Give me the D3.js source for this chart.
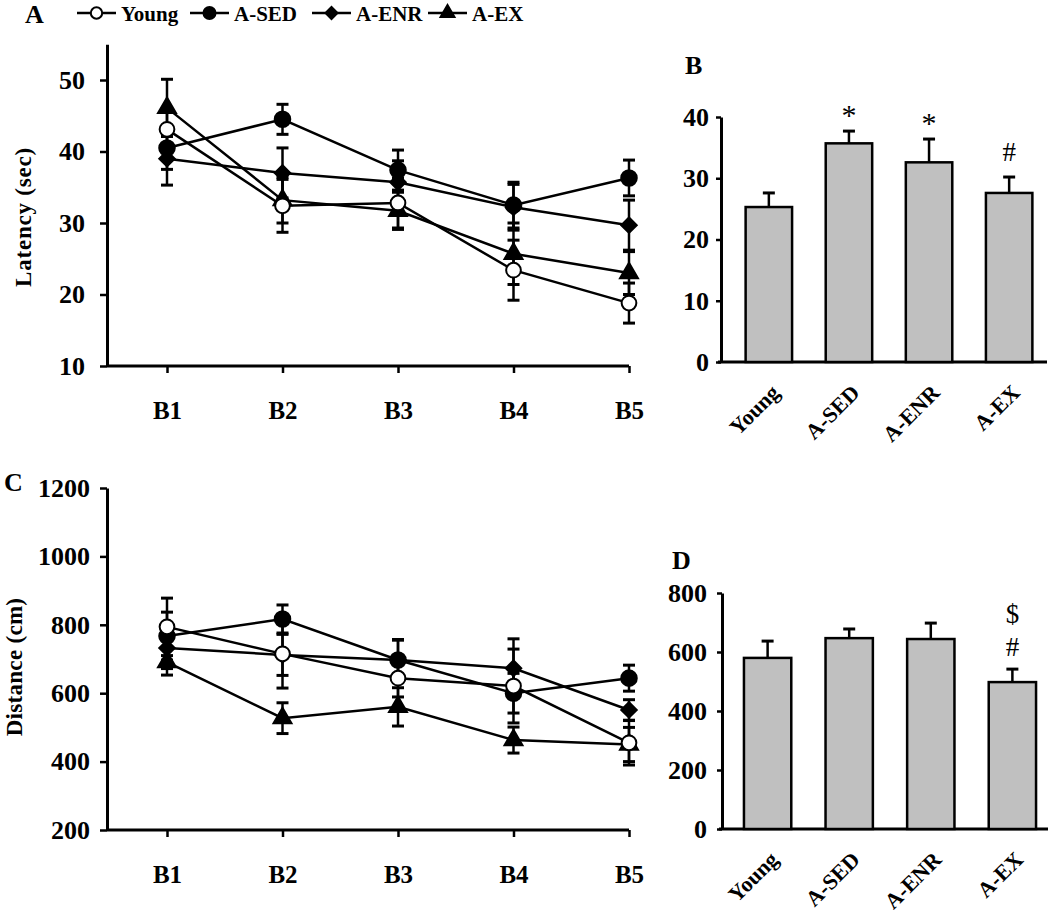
<!DOCTYPE html>
<html>
<head>
<meta charset="utf-8">
<script src="https://cdn.jsdelivr.net/npm/d3@7"></script>
<style>
  body { margin: 0; background: #fff; }
  text { font-family: "Liberation Serif", "Times New Roman", serif; font-weight: bold; fill: #000; }
</style>
</head>
<body>
<div id="chart"></div>
<script>
// categories
const blocks = ["B1", "B2", "B3", "B4", "B5"];
const groups = ["Young", "A-SED", "A-ENR", "A-EX"];

// panel A: latency (sec) per block, mean and error
const latYoung = [43.1, 32.4, 32.8, 23.4, 18.8];
const latYoungErr = [3.0, 3.7, 3.5, 4.2, 2.8];
const latSed = [40.5, 44.5, 37.4, 32.5, 36.3];
const latSedErr = [3.0, 2.1, 2.8, 3.2, 2.5];
const latEnr = [39.0, 37.0, 35.7, 32.2, 29.7];
const latEnrErr = [3.7, 3.5, 3.0, 3.2, 3.5];
const latEx = [46.1, 33.2, 31.7, 25.7, 23.0];
const latExErr = [4.0, 3.2, 2.6, 4.3, 3.0];

// panel B: mean latency per group
const latMean = [25.3, 35.7, 32.6, 27.6];
const latMeanErr = [2.3, 2.0, 3.8, 2.6];
const latNotes = ["", "*", "*", "#"];

// panel C: distance (cm) per block
const distYoung = [794, 715, 644, 621, 455];
const distYoungErr = [84, 100, 55, 108, 65];
const distSed = [767, 817, 697, 600, 644];
const distSedErr = [70, 41, 60, 58, 38];
const distEnr = [732, 712, 697, 673, 551];
const distEnrErr = [60, 60, 58, 86, 30];
const distEx = [691, 527, 560, 463, 450];
const distExErr = [38, 45, 56, 38, 50];

// panel D: mean distance per group
const distMean = [580, 647, 644, 498];
const distMeanErr = [57, 31, 54, 44];
const distNotes = ["", "", "", "$\n#"];

// tick labels
const latTicks = [10, 20, 30, 40, 50];
const latBarTicks = [0, 10, 20, 30, 40];
const distTicks = [200, 400, 600, 800, 1000, 1200];
const distBarTicks = [0, 200, 400, 600, 800];

const width = 1050, height = 916;
const svg = d3.select("#chart").append("svg")
  .attr("width", width).attr("height", height)
  .attr("viewBox", [0, 0, width, height]);

// marker shapes by group
const symbols = {
  "Young": {type: d3.symbolCircle, size: 170, fill: "#fff", rot: 0},
  "A-SED": {type: d3.symbolCircle, size: 190, fill: "#000", rot: 0},
  "A-ENR": {type: d3.symbolSquare, size: 120, fill: "#000", rot: 45},
  "A-EX": {type: d3.symbolTriangle, size: 140, fill: "#000", rot: 0}
};

const drawMarker = (g, name, cx, cy, scale = 1) => {
  const s = symbols[name];
  g.append("path")
    .attr("d", d3.symbol().type(s.type).size(s.size * scale)())
    .attr("transform", `translate(${cx},${cy}) rotate(${s.rot})`)
    .attr("fill", s.fill)
    .attr("stroke", "#000")
    .attr("stroke-width", 2);
};

const styleAxis = (g) => {
  g.attr("font-family", null).attr("font-size", null);
  g.selectAll(".tick line").attr("stroke", "#000").attr("stroke-width", 2.5);
  g.select(".domain").attr("stroke", "#000").attr("stroke-width", 3);
};

// line chart with error bars (panels A and C)
const lineChart = (opt) => {
  const g = svg.append("g");
  const x = d3.scalePoint().domain(blocks).range([167, 629]);
  const y = d3.scaleLinear().domain(opt.domain).range(opt.range);
  const x0 = 107, yBase = y(opt.domain[0]);

  // y axis
  g.append("g")
    .attr("transform", `translate(${x0},0)`)
    .call(d3.axisLeft(y).tickValues(opt.ticks).tickFormat(d3.format("d"))
      .tickSize(7).tickPadding(opt.pad).tickSizeOuter(0))
    .call(styleAxis)
    .selectAll("text").style("font-size", "26px");

  // x axis
  const xa = g.append("g")
    .attr("transform", `translate(0,${yBase})`)
    .call(d3.axisBottom(x).tickSize(7).tickPadding(28).tickSizeOuter(0))
    .call(styleAxis);
  xa.select(".domain").attr("d", `M${x0},0H${x.range()[1]}`);
  xa.selectAll("text").style("font-size", "25px");

  // axis title
  g.append("text")
    .attr("transform", `translate(${opt.titleX},${opt.titleY}) rotate(-90)`)
    .attr("text-anchor", "middle")
    .style("font-size", "23px")
    .style("letter-spacing", opt.spacing)
    .text(opt.title);

  const line = d3.line().x((d, i) => x(blocks[i])).y(d => y(d));
  opt.series.forEach(s => {
    g.append("path").datum(s.values)
      .attr("d", line)
      .attr("fill", "none")
      .attr("stroke", "#000")
      .attr("stroke-width", 2.5);
  });

  // error bars
  opt.series.forEach(s => {
    s.values.forEach((v, i) => {
      const cx = x(blocks[i]);
      const top = y(v + s.err[i]), bot = y(v - s.err[i]);
      g.append("line").attr("x1", cx).attr("x2", cx).attr("y1", top).attr("y2", bot)
        .attr("stroke", "#000").attr("stroke-width", 2.5);
      [top, bot].forEach(yy => {
        g.append("line").attr("x1", cx - 6).attr("x2", cx + 6).attr("y1", yy).attr("y2", yy)
          .attr("stroke", "#000").attr("stroke-width", 3);
      });
    });
  });

  // markers, Young on top
  opt.series.slice().reverse().forEach(s => {
    s.values.forEach((v, i) => drawMarker(g, s.name, x(blocks[i]), y(v)));
  });
};

// bar chart with error bars (panels B and D)
const barChart = (opt) => {
  const g = svg.append("g");
  const x = d3.scaleBand().domain(groups).range(opt.xRange).paddingInner(0.42).paddingOuter(0.22);
  const y = d3.scaleLinear().domain(opt.domain).range(opt.range);
  const x0 = opt.axisX[0], yBase = y(0);

  g.append("g")
    .attr("transform", `translate(${x0},0)`)
    .call(d3.axisLeft(y).tickValues(opt.ticks).tickFormat(d3.format("d"))
      .tickSize(5).tickPadding(opt.pad).tickSizeOuter(0))
    .call(styleAxis)
    .selectAll("text").style("font-size", "26px");

  g.append("line")
    .attr("x1", x0 - 3).attr("x2", opt.axisX[1])
    .attr("y1", yBase).attr("y2", yBase)
    .attr("stroke", "#000").attr("stroke-width", 3);

  // error bars first so the bar covers the lower half
  opt.values.forEach((v, i) => {
    const cx = x(groups[i]) + x.bandwidth() / 2;
    const top = y(v + opt.err[i]);
    g.append("line").attr("x1", cx).attr("x2", cx).attr("y1", top).attr("y2", y(v))
      .attr("stroke", "#000").attr("stroke-width", 2.5);
    g.append("line").attr("x1", cx - 6).attr("x2", cx + 6).attr("y1", top).attr("y2", top)
      .attr("stroke", "#000").attr("stroke-width", 3);
  });

  g.selectAll("rect.bar")
    .data(opt.values)
    .enter().append("rect")
    .attr("class", "bar")
    .attr("x", (d, i) => x(groups[i]))
    .attr("y", d => y(d))
    .attr("width", x.bandwidth())
    .attr("height", d => yBase - y(d))
    .attr("fill", "#c0c0c0")
    .attr("stroke", "#000")
    .attr("stroke-width", 2.5);

  // significance marks
  opt.notes.forEach((n, i) => {
    if (!n) return;
    const cx = x(groups[i]) + x.bandwidth() / 2;
    const lines = n.split("\n");
    const base = y(opt.values[i] + opt.err[i]) - opt.noteGap;
    lines.forEach((t, k) => {
      g.append("text")
        .attr("x", cx).attr("y", base - (lines.length - 1 - k) * 33 + (t === "*" ? 10 : 0))
        .attr("text-anchor", "middle")
        .style("font-weight", "normal")
        .style("font-size", t === "*" ? "30px" : "27px")
        .text(t);
    });
  });

  // rotated category labels
  groups.forEach((name, i) => {
    const cx = x(name) + x.bandwidth() / 2 + 12;
    g.append("text")
      .attr("transform", `translate(${cx},${yBase + 32}) rotate(-45)`)
      .attr("text-anchor", "end")
      .style("font-size", "22px")
      .text(name);
  });
};

const panelLabel = (t, x, y) => svg.append("text")
  .attr("x", x).attr("y", y).style("font-size", "26px").text(t);

// legend
const legendItems = [
  {name: "Young", x: 77},
  {name: "A-SED", x: 190},
  {name: "A-ENR", x: 312},
  {name: "A-EX", x: 428}
];
const legend = svg.append("g");
legendItems.forEach(d => {
  legend.append("line").attr("x1", d.x).attr("x2", d.x + 39).attr("y1", 13).attr("y2", 13)
    .attr("stroke", "#000").attr("stroke-width", 2.5);
  drawMarker(legend, d.name, d.x + 19.5, 13, 0.6);
  legend.append("text").attr("x", d.x + 44).attr("y", 21).style("font-size", "21px").text(d.name);
});

panelLabel("A", 25, 23);
panelLabel("B", 685, 74);
panelLabel("C", 4, 491);
panelLabel("D", 672, 569);

lineChart({
  domain: [10, 55], range: [366, 44.25], ticks: latTicks, pad: 15,
  title: "Latency (sec)", titleX: 31, titleY: 217, spacing: "0.8px",
  series: [
    {name: "Young", values: latYoung, err: latYoungErr},
    {name: "A-SED", values: latSed, err: latSedErr},
    {name: "A-ENR", values: latEnr, err: latEnrErr},
    {name: "A-EX", values: latEx, err: latExErr}
  ]
});

lineChart({
  domain: [200, 1200], range: [830, 488], ticks: distTicks, pad: 10,
  title: "Distance (cm)", titleX: 22, titleY: 667, spacing: "0.3px",
  series: [
    {name: "Young", values: distYoung, err: distYoungErr},
    {name: "A-SED", values: distSed, err: distSedErr},
    {name: "A-ENR", values: distEnr, err: distEnrErr},
    {name: "A-EX", values: distEx, err: distExErr}
  ]
});

barChart({
  domain: [0, 40], range: [362, 117], ticks: latBarTicks, pad: 7,
  xRange: [728, 1050], axisX: [721, 1047],
  values: latMean, err: latMeanErr, notes: latNotes, noteGap: 16
});

barChart({
  domain: [0, 800], range: [829, 593], ticks: distBarTicks, pad: 10,
  xRange: [726, 1054], axisX: [722, 1048],
  values: distMean, err: distMeanErr, notes: distNotes, noteGap: 13
});
</script>
</body>
</html>
